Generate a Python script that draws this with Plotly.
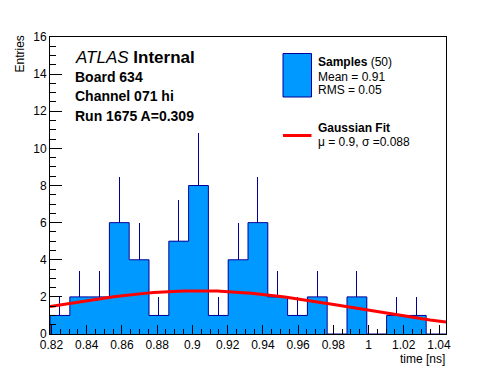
import numpy as np
import plotly.graph_objects as go

# ---------------- data ----------------
x_min, x_max = 0.81915, 1.04397
n_bins = 20
counts = [1, 2, 2, 6, 4, 1, 5, 8, 1, 4, 6, 2, 1, 2, 0, 2, 0, 1, 1, 0]
fit_amp, fit_mu, fit_sigma = 2.33, 0.903, 0.088
y_range = [0, 16]
x_tick_vals = [0.82, 0.84, 0.86, 0.88, 0.90, 0.92, 0.94, 0.96, 0.98, 1.00, 1.02, 1.04]
x_tick_text = ["0.82", "0.84", "0.86", "0.88", "0.9", "0.92", "0.94", "0.96", "0.98", "1", "1.02", "1.04"]
info_lines = ["<i>ATLAS</i> <b>Internal</b>", "<b>Board 634</b>", "<b>Channel 071 hi</b>", "<b>Run 1675 A=0.309</b>"]
legend_lines = ["<b>Samples</b> (50)", "Mean = 0.91", "RMS = 0.05", "<b>Gaussian Fit</b>", "\u03bc = 0.9, \u03c3 =0.088"]

# ---------------- derived ----------------
edges = np.linspace(x_min, x_max, n_bins + 1)
centers = 0.5 * (edges[:-1] + edges[1:])
bw = edges[1] - edges[0]
cnt = np.array(counts, dtype=float)
err = np.sqrt(cnt)

step_x = [edges[0]] + list(edges[:-1]) + [edges[-1], edges[-1]]
step_y = [0] + list(cnt) + [cnt[-1], 0]

fx = np.linspace(x_min, x_max, 200)
fy = fit_amp * np.exp(-0.5 * ((fx - fit_mu) / fit_sigma) ** 2)

FILL = "#0099ff"
NAVY = "#000099"
RED = "#ff0000"
FONT = "Liberation Sans, Arial, Helvetica, sans-serif"

W, H = 496, 372
L, R, T, B = 50, 50, 37, 38
PW, PH = W - L - R, H - T - B


def px(x):
    return (x - L) / PW


def py(y):
    return (H - B - y) / PH


fig = go.Figure()
fig.add_trace(go.Bar(x=centers, y=cnt, width=bw, marker=dict(color=FILL, line=dict(width=0)),
                     error_y=dict(type="data", symmetric=False, array=err, arrayminus=[0] * n_bins,
                                  color=NAVY, thickness=1, width=0),
                     showlegend=False, hoverinfo="skip"))
fig.add_trace(go.Scatter(x=step_x, y=step_y, mode="lines", line=dict(color=NAVY, width=1, shape="hv"),
                         showlegend=False, hoverinfo="skip"))
fig.add_trace(go.Scatter(x=fx, y=fy, mode="lines", line=dict(color=RED, width=3),
                         showlegend=False, hoverinfo="skip"))

fig.update_layout(
    width=W, height=H, margin=dict(l=L, r=R, t=T, b=B, pad=0),
    paper_bgcolor="white", plot_bgcolor="white", bargap=0,
    font=dict(family=FONT, size=12, color="black"),
    xaxis=dict(range=[x_min, x_max], tickmode="array", tickvals=x_tick_vals, ticktext=x_tick_text,
               ticks="inside", ticklen=9, tickcolor="black", tickwidth=1,
               minor=dict(tick0=0.82, dtick=0.005, ticks="inside", ticklen=5, tickcolor="black"),
               showgrid=False, zeroline=False, showline=True, linecolor="black", linewidth=1, mirror=True,
               tickfont=dict(size=12)),
    yaxis=dict(range=y_range, dtick=2, ticks="inside", ticklen=12, tickcolor="black", tickwidth=1,
               minor=dict(dtick=0.5, ticks="inside", ticklen=6, tickcolor="black"),
               showgrid=False, zeroline=False, showline=True, linecolor="black", linewidth=1, mirror=True,
               tickfont=dict(size=12)),
)

ann = []
# axis titles
ann.append(dict(text="time [ns]", x=px(446), y=py(359), xanchor="right", yanchor="middle",
                font=dict(size=12)))
ann.append(dict(text="Entries", x=px(19), y=py(35), xanchor="center", yanchor="top", textangle=-90,
                font=dict(size=12)))
# info text
info_y = [57, 77, 96, 116]
info_size = [17, 14, 14, 14]
for t, yy, s in zip(info_lines, info_y, info_size):
    ann.append(dict(text=t, x=px(74), y=py(yy), xanchor="left", yanchor="middle", font=dict(size=s)))
# legend text
leg_y = [62, 77, 90, 128, 142]
for t, yy in zip(legend_lines, leg_y):
    ann.append(dict(text=t, x=px(317), y=py(yy), xanchor="left", yanchor="middle", font=dict(size=12)))
for a in ann:
    a.update(xref="paper", yref="paper", showarrow=False, borderpad=0)
fig.update_layout(annotations=ann)

fig.add_shape(type="rect", xref="paper", yref="paper", x0=px(283), x1=px(311.5), y0=py(97), y1=py(53.5),
              fillcolor=FILL, line=dict(color=NAVY, width=1))
fig.add_shape(type="line", xref="paper", yref="paper", x0=px(283), x1=px(311.5), y0=py(135.5), y1=py(135.5),
              line=dict(color=RED, width=3))

fig.write_html("out.html", config={"displayModeBar": False},
               post_script="document.body.style.margin='0px';")
